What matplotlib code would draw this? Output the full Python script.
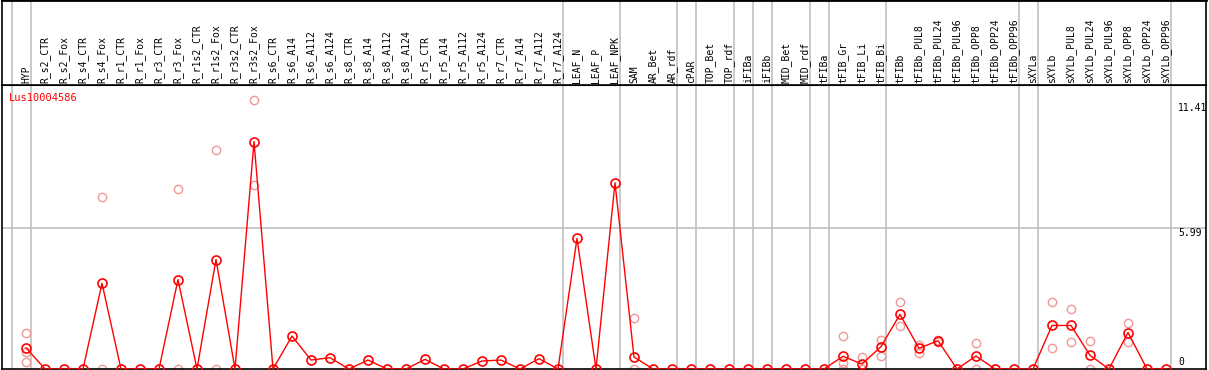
import numpy as np
import matplotlib
matplotlib.use("Agg")
import matplotlib.pyplot as plt

labels = ["HYP",
          "R_s2_CTR", "R_s2_Fox", "R_s4_CTR", "R_s4_Fox", "R_r1_CTR", "R_r1_Fox",
          "R_r3_CTR", "R_r3_Fox", "R_r1s2_CTR", "R_r1s2_Fox", "R_r3s2_CTR", "R_r3s2_Fox",
          "R_s6_CTR", "R_s6_A14", "R_s6_A112", "R_s6_A124", "R_s8_CTR", "R_s8_A14",
          "R_s8_A112", "R_s8_A124", "R_r5_CTR", "R_r5_A14", "R_r5_A112", "R_r5_A124",
          "R_r7_CTR", "R_r7_A14", "R_r7_A112", "R_r7_A124",
          "LEAF_N", "LEAF_P", "LEAF_NPK", "SAM", "AR_Bet", "AR_rdf", "cPAR",
          "TOP_Bet", "TOP_rdf", "iFIBa", "iFIBb", "MID_Bet", "MID_rdf", "tFIBa",
          "tFIB_Gr", "tFIB_Li", "tFIB_Bi", "tFIBb", "tFIBb_PUL8", "tFIBb_PUL24",
          "tFIBb_PUL96", "tFIBb_OPP8", "tFIBb_OPP24", "tFIBb_OPP96", "sXYLa",
          "sXYLb", "sXYLb_PUL8", "sXYLb_PUL24", "sXYLb_PUL96", "sXYLb_OPP8",
          "sXYLb_OPP24", "sXYLb_OPP96"]

means = [0.90,
         0, 0, 0, 3.64, 0, 0, 0, 3.80, 0, 4.65, 0, 9.66,
         0, 1.40, 0.38, 0.48, 0, 0.38, 0, 0, 0.41, 0, 0, 0.34,
         0.38, 0, 0.44, 0,
         5.55, 0, 7.91, 0.51, 0, 0, 0, 0, 0, 0, 0, 0, 0, 0,
         0.54, 0.21, 0.95, 2.32, 0.88, 1.20, 0, 0.55, 0, 0, 0,
         1.85, 1.85, 0.58, 0, 1.55, 0, 0]

# replicate samples (category name -> values)
replicates = {
    "HYP": [1.51, 0.73, 0.28],
    "R_s4_Fox": [7.32, 0.0],
    "R_r3_Fox": [7.66, 0.0],
    "R_r1s2_Fox": [9.31, 0.0],
    "R_r3s2_Fox": [11.41, 7.83],
    "SAM": [2.15, 0.0],
    "tFIB_Gr": [1.41, 0.24, 0.0],
    "tFIB_Li": [0.49, 0.0],
    "tFIB_Bi": [1.23, 0.54],
    "tFIBb": [2.83, 1.81],
    "tFIBb_PUL8": [1.02, 0.69],
    "tFIBb_PUL24": [1.23, 1.13],
    "tFIBb_OPP8": [1.09, 0.0],
    "sXYLb": [2.83, 0.89],
    "sXYLb_PUL8": [2.57, 1.13],
    "sXYLb_PUL24": [1.19, 0.0],
    "sXYLb_OPP8": [1.94, 1.13],
}

# last category of each group (separator drawn after it)
group_ends = [-1, 0, 28, 31, 34, 35, 37, 38, 39, 41, 42, 45, 52, 53, 60]

gene = "Lus10004586"
ymax_label = 11.41
ymid_label = 5.99

W, H = 1209, 370
fig = plt.figure(figsize=(W / 100, H / 100), dpi=100)

# pixel layout
x0px, x1px = 2, 1206
ytop_px, ysep_px, ybot_px = 0, 85, 369
first_px, step_px = 26, 19.0
xlim = ((x0px - first_px) / step_px, (x1px - first_px) / step_px)

ax = fig.add_axes([x0px / W, (H - ybot_px) / H, (x1px - x0px) / W, (ybot_px - ysep_px) / H])
ax_top = fig.add_axes([x0px / W, (H - ysep_px) / H, (x1px - x0px) / W, (ysep_px - ytop_px) / H])

mono = "DejaVu Sans Mono"
x = np.arange(len(labels))

# y scale: 0 at bottom, 5.99 at pixel 228
px_per_unit = (ybot_px - 228) / ymid_label
ax.set_ylim(0, (ybot_px - ysep_px) / px_per_unit)
ax.set_xlim(*xlim)
ax_top.set_xlim(*xlim)
ax_top.set_ylim(0, 1)

for a in (ax, ax_top):
    a.set_xticks([])
    a.set_yticks([])
    for s in a.spines.values():
        s.set_color("black")
        s.set_linewidth(1.2)
ax.spines["top"].set_linewidth(1.5)
ax_top.spines["top"].set_linewidth(2)

sep_color = "#c0c0c0"
for g in group_ends:
    ax.axvline(g + 0.24, color=sep_color, lw=1.2, zorder=0)
    ax_top.axvline(g + 0.24, color=sep_color, lw=1.2, zorder=0)
ax.axhline(ymid_label, color=sep_color, lw=1.2, zorder=0)

# replicates
for name, vals in replicates.items():
    i = labels.index(name)
    ax.plot([i] * len(vals), vals, "o", ms=6, mfc="none", mec="#ee9999",
            mew=1.0, zorder=2)

# means
ax.plot(x, means, "-", color="red", lw=1.0, zorder=3)
ax.plot(x, means, "o", ms=6.5, mfc="none", mec="red", mew=1.2, zorder=4)

# category labels in the top band
for i, lab in enumerate(labels):
    ax_top.text(i, 2 / 85, lab, rotation=90, ha="center", va="bottom",
                fontsize=7, family=mono, color="black")

ax.text(0.006, 0.955, gene, transform=ax.transAxes, color="red", fontsize=7.5,
        family=mono, ha="left", va="center")

xr = (1178 - first_px) / step_px
ax.annotate("%.2f" % ymax_label, (xr, ymax_label), xytext=(0, -2),
            textcoords="offset points", ha="left", va="top", fontsize=7,
            family=mono, color="black")
ax.text(xr, ymid_label, "%.2f" % ymid_label, ha="left", va="top", fontsize=7,
        family=mono, color="black")
ax.text(xr, 0.1, "0", ha="left", va="bottom", fontsize=7, family=mono,
        color="black")

fig.savefig("out.png", dpi=100)
